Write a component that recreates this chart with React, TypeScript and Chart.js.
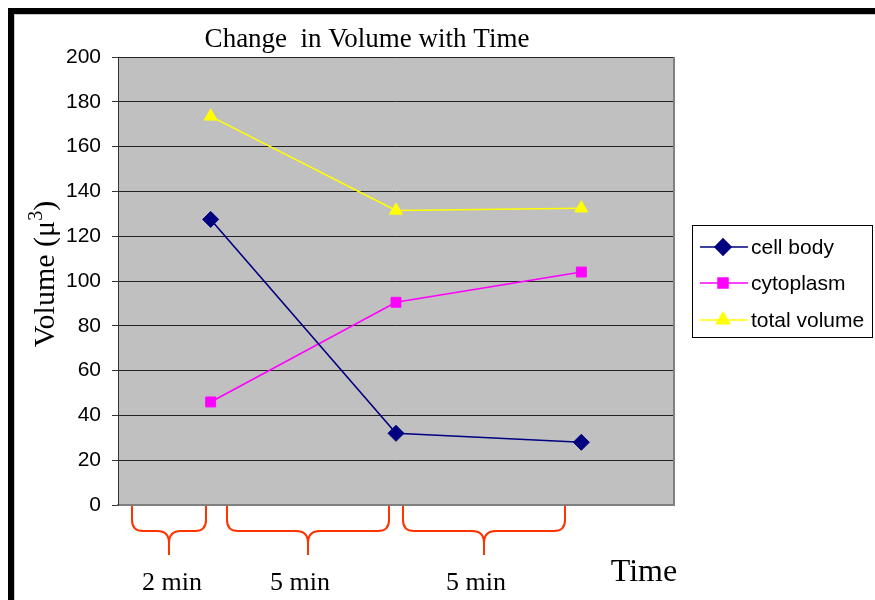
import React, { useEffect, useRef } from "react";
import { Chart, registerables } from "chart.js";
import { drawPoint } from "chart.js/helpers";

Chart.register(...registerables);

const categories = ["t0", "t1", "t2"];
const cellBody = [127.5, 32, 28];
const cytoplasm = [46, 90.5, 104];
const totalVolume = [173.5, 131.5, 132.5];
const seriesNames = ["cell body", "cytoplasm", "total volume"];
const intervalLabels = ["2 min", "5 min", "5 min"];

const COLORS = ["#000080", "#FF00FF", "#FFFF00"];
const POINT_STYLES = ["rectRot", "rect", "triangle"];
const POINT_RADII = [8, 7, 7.5];

// bracket geometry (decoration): [left, right] x pixels, plus label center x
const BRACKETS = [
  { l: 132, r: 206, c: 169, lx: 172 },
  { l: 227, r: 389, c: 308, lx: 300 },
  { l: 403, r: 565, c: 484, lx: 476 },
];

const SERIF = '"Liberation Serif", "Times New Roman", serif';
const SANS = '"Liberation Sans", Arial, sans-serif';

const decorPlugin = {
  id: "decor",
  beforeDraw(chart: any) {
    const { ctx, chartArea } = chart;
    ctx.save();
    ctx.fillStyle = "#ffffff";
    ctx.fillRect(0, 0, chart.width, chart.height);
    // frame
    ctx.fillStyle = "#000";
    ctx.fillRect(8, 8, chart.width, 6);
    ctx.fillRect(8, 8, 6, chart.height);
    ctx.fillStyle = "#c8c8c8";
    ctx.fillRect(14, 14, chart.width, 1);
    ctx.fillRect(14, 14, 1, chart.height);
    // plot bg
    ctx.fillStyle = "#C0C0C0";
    ctx.fillRect(chartArea.left, chartArea.top, chartArea.right - chartArea.left, chartArea.bottom - chartArea.top);
    ctx.restore();
  },
  afterDraw(chart: any) {
    const { ctx, chartArea } = chart;
    ctx.save();
    // right border of plot
    ctx.strokeStyle = "#808080";
    ctx.lineWidth = 2;
    ctx.beginPath();
    ctx.moveTo(chartArea.right, chartArea.top);
    ctx.lineTo(chartArea.right, chartArea.bottom);
    ctx.stroke();

    // title
    ctx.fillStyle = "#000";
    ctx.font = `27px ${SERIF}`;
    ctx.textAlign = "center";
    ctx.textBaseline = "alphabetic";
    ctx.fillText("Change  in Volume with Time", 367, 47);

    // y title
    ctx.save();
    ctx.translate(44, 274);
    ctx.rotate(-Math.PI / 2);
    const big = `30px ${SERIF}`;
    const small = `20px ${SERIF}`;
    ctx.font = big;
    const p1 = "Volume (\u03bc";
    const p3 = ")";
    const w1 = ctx.measureText(p1).width;
    const w3 = ctx.measureText(p3).width;
    ctx.font = small;
    const w2 = ctx.measureText("3").width;
    const total = w1 + w2 + w3;
    let x = -total / 2;
    ctx.textAlign = "left";
    ctx.textBaseline = "alphabetic";
    ctx.font = big;
    ctx.fillText(p1, x, 10);
    x += w1;
    ctx.font = small;
    ctx.fillText("3", x, -2);
    x += w2;
    ctx.font = big;
    ctx.fillText(p3, x, 10);
    ctx.restore();

    // brackets
    const top = chartArea.bottom + 1;
    const h = 531;
    const tip = 555;
    const r = 11;
    const rc = 12;
    ctx.strokeStyle = "#FF3300";
    ctx.lineWidth = 2;
    BRACKETS.forEach((b) => {
      ctx.beginPath();
      ctx.moveTo(b.l, top);
      ctx.lineTo(b.l, h - r);
      ctx.quadraticCurveTo(b.l, h, b.l + r, h);
      ctx.lineTo(b.c - rc, h);
      ctx.quadraticCurveTo(b.c, h, b.c, h + rc);
      ctx.lineTo(b.c, tip);
      ctx.moveTo(b.c, h + rc);
      ctx.quadraticCurveTo(b.c, h, b.c + rc, h);
      ctx.lineTo(b.r - r, h);
      ctx.quadraticCurveTo(b.r, h, b.r, h - r);
      ctx.lineTo(b.r, top);
      ctx.stroke();
    });

    ctx.fillStyle = "#000";
    ctx.textAlign = "center";
    ctx.textBaseline = "alphabetic";
    ctx.font = `26px ${SERIF}`;
    intervalLabels.forEach((t, i) => {
      ctx.fillText(t, BRACKETS[i].lx, 590);
    });
    ctx.font = `32px ${SERIF}`;
    ctx.fillText("Time", 644, 581);

    // legend
    const lx = 692, ly = 225, lw = 180, lh = 112;
    ctx.fillStyle = "#fff";
    ctx.fillRect(lx, ly, lw, lh);
    ctx.strokeStyle = "#000";
    ctx.lineWidth = 1;
    ctx.strokeRect(lx + 0.5, ly + 0.5, lw, lh);
    const rows = [247, 283, 320];
    chart.data.datasets.forEach((ds: any, i: number) => {
      const y = rows[i];
      ctx.strokeStyle = ds.borderColor;
      ctx.lineWidth = 1.6;
      ctx.beginPath();
      ctx.moveTo(700, y);
      ctx.lineTo(748, y);
      ctx.stroke();
      ctx.fillStyle = ds.pointBackgroundColor;
      ctx.strokeStyle = ds.pointBorderColor;
      drawPoint(ctx, { pointStyle: ds.pointStyle, radius: ds.pointRadius, borderWidth: 1, rotation: 0 }, 723, y);
      ctx.fillStyle = "#000";
      ctx.font = `21px ${SANS}`;
      ctx.textAlign = "left";
      ctx.textBaseline = "middle";
      ctx.fillText(ds.label, 751, y + 1);
    });
    ctx.restore();
  },
};

export default function App() {
  const ref = useRef<HTMLCanvasElement>(null);
  useEffect(() => {
    const seriesData = [cellBody, cytoplasm, totalVolume];
    const chart = new Chart(ref.current!, {
      type: "line",
      data: {
        labels: categories,
        datasets: seriesData.map((d, i) => ({
          label: seriesNames[i],
          data: d,
          borderColor: COLORS[i],
          backgroundColor: COLORS[i],
          pointBackgroundColor: COLORS[i],
          pointBorderColor: COLORS[i],
          pointStyle: POINT_STYLES[i] as any,
          pointRadius: POINT_RADII[i],
          pointBorderWidth: 1,
          borderWidth: 1.6,
          tension: 0,
          fill: false,
        })),
      },
      options: {
        responsive: false,
        animation: false,
        devicePixelRatio: 1,
        layout: { padding: { left: 0, top: 57, right: 201, bottom: 0 } },
        plugins: { legend: { display: false }, title: { display: false }, tooltip: { enabled: false } },
        scales: {
          x: {
            type: "category",
            offset: true,
            grid: { display: false, drawTicks: false },
            border: { display: true, color: "#808080", width: 2 },
            ticks: { display: false },
            afterFit: (s: any) => {
              s.height = 95;
            },
          },
          y: {
            min: 0,
            max: 200,
            ticks: {
              stepSize: 20,
              color: "#000",
              padding: 11,
              font: { family: SANS, size: 21 },
            },
            grid: { color: "#222222", lineWidth: 1, tickLength: 6, tickColor: "#333333" },
            border: { display: true, color: "#333333", width: 1 },
            afterFit: (s: any) => {
              s.width = 118;
            },
          },
        },
      },
      plugins: [decorPlugin],
    });
    return () => chart.destroy();
  }, []);
  return (
    <div style={{ position: "absolute", left: 0, top: 0, width: 875, height: 600 }}>
      <canvas ref={ref} width={875} height={600} />
    </div>
  );
}
